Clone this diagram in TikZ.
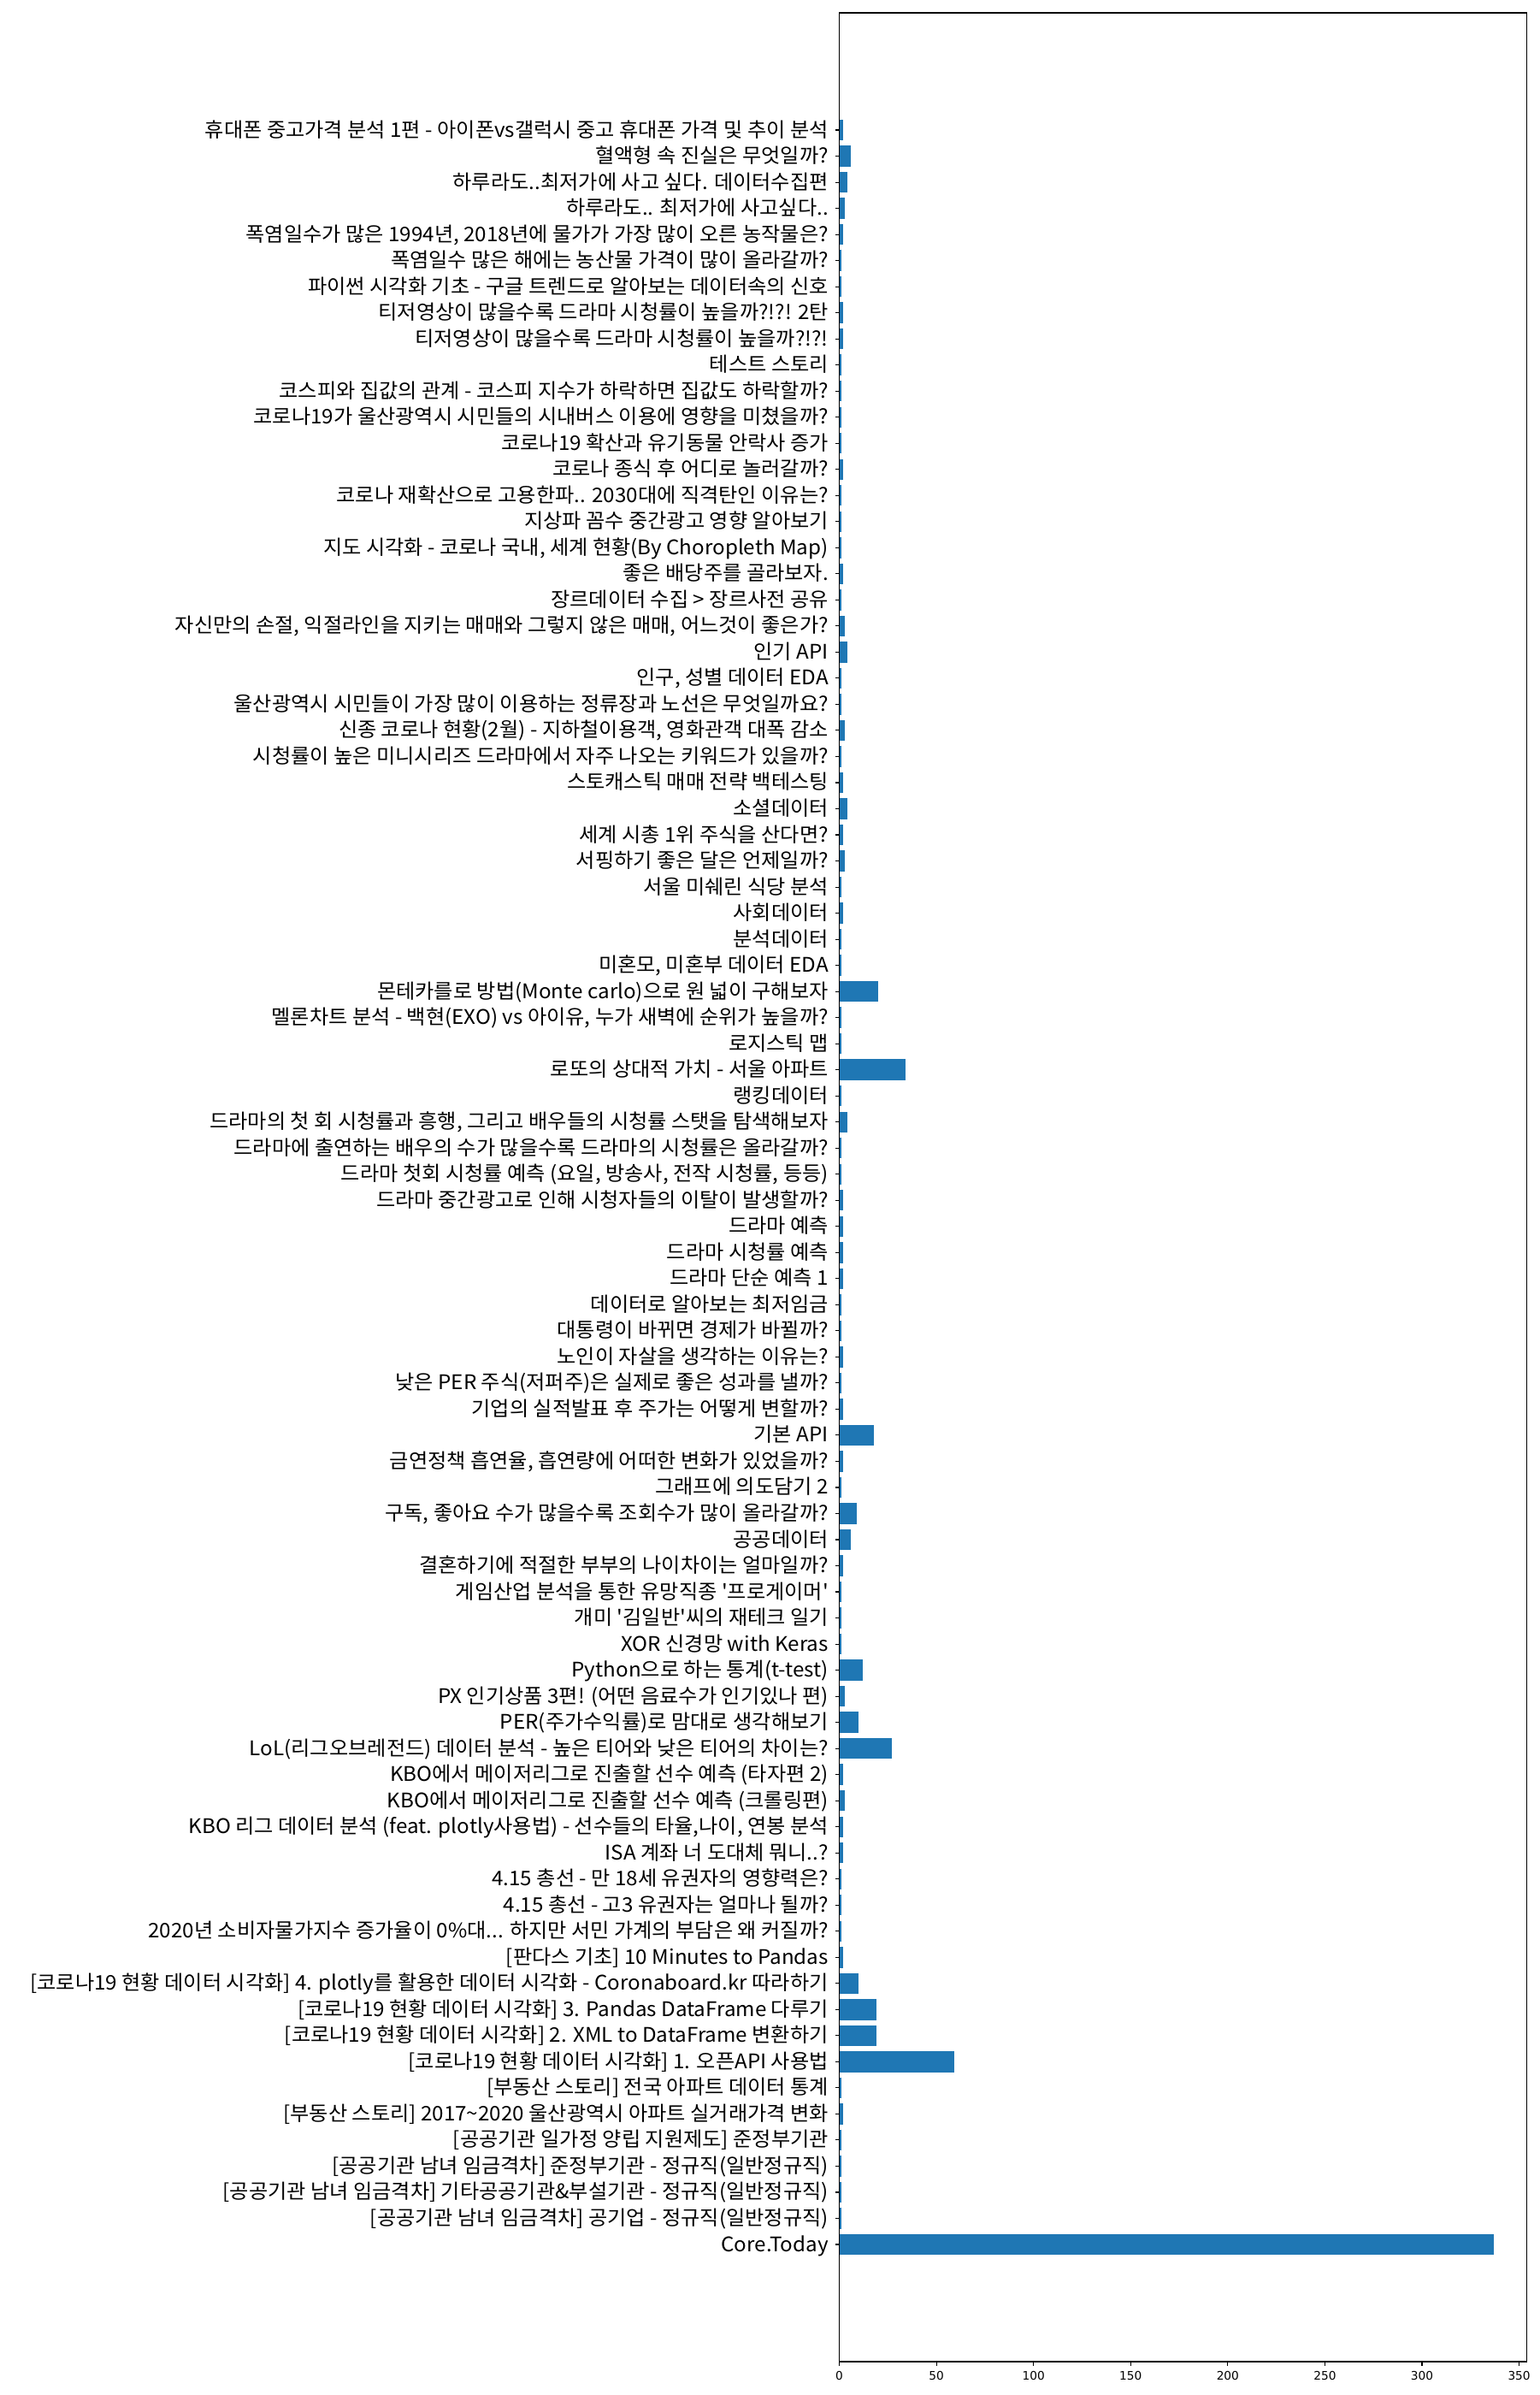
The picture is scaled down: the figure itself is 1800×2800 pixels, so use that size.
\documentclass[tikz,border=0pt]{standalone}
\usepackage{fontspec}
\newfontfamily\kr{Noto Sans CJK KR}
\newfontfamily\dv{DejaVu Sans}
\definecolor{barc}{HTML}{1F77B4}
\tikzset{
  lbl/.style={anchor=base east, inner sep=0pt, font=\kr\fontsize{23.5}{28}\selectfont},
  tklbl/.style={anchor=base, inner sep=0pt, font=\dv\fontsize{13.7}{16}\selectfont},
  barbox/.style={fill=barc, draw=none},
  tk/.style={line width=1.1pt, black},
  spine/.style={line width=1.1pt, black}
}
\newcommand\brow[3]{%
  \pgfmathsetmacro\yc{2761-(#1+4.49)*30.518}%
  \pgfmathsetmacro\xe{981.5+#2*2.2716}%
  \fill[barbox] (981.5,\yc-12.2) rectangle (\xe,\yc+12.2);
  \coordinate (t#1) at (976.6,\yc);
  \coordinate (a#1) at (981.5,\yc);
  \draw[tk] (t#1) -- (a#1);
  \node[lbl] (l#1) at (969,\yc+8) {\scalebox{1.03}[1]{#3}};
}
\newcommand\xtick[1]{%
  \pgfmathsetmacro\xt{981.5+#1*2.2716}%
  \coordinate (xa#1) at (\xt,2761);
  \coordinate (xb#1) at (\xt,2765.9);
  \draw[tk] (xa#1) -- (xb#1);
  \node[tklbl] (xl#1) at (\xt,2782.7) {#1};
}
\begin{document}
\begin{tikzpicture}[x=1pt,y=-1pt]
\useasboundingbox (0,0) rectangle (1800,2800);
\fill[white] (0,0) rectangle (1800,2800);
\brow{0}{337}{Core.Today}
\brow{1}{1}{[공공기관 남녀 임금격차] 공기업 - 정규직(일반정규직)}
\brow{2}{1}{[공공기관 남녀 임금격차] 기타공공기관\&부설기관 - 정규직(일반정규직)}
\brow{3}{1}{[공공기관 남녀 임금격차] 준정부기관 - 정규직(일반정규직)}
\brow{4}{1}{[공공기관 일가정 양립 지원제도] 준정부기관}
\brow{5}{2}{[부동산 스토리] 2017\textasciitilde 2020 울산광역시 아파트 실거래가격 변화}
\brow{6}{1}{[부동산 스토리] 전국 아파트 데이터 통계}
\brow{7}{59}{[코로나19 현황 데이터 시각화] 1. 오픈API 사용법}
\brow{8}{19}{[코로나19 현황 데이터 시각화] 2. XML to DataFrame 변환하기}
\brow{9}{19}{[코로나19 현황 데이터 시각화] 3. Pandas DataFrame 다루기}
\brow{10}{10}{[코로나19 현황 데이터 시각화] 4. plotly를 활용한 데이터 시각화 - Coronaboard.kr 따라하기}
\brow{11}{2}{[판다스 기초] 10 Minutes to Pandas}
\brow{12}{1}{2020년 소비자물가지수 증가율이 0\%대... 하지만 서민 가계의 부담은 왜 커질까?}
\brow{13}{1}{4.15 총선 - 고3 유권자는 얼마나 될까?}
\brow{14}{1}{4.15 총선 - 만 18세 유권자의 영향력은?}
\brow{15}{2}{ISA 계좌 너 도대체 뭐니..?}
\brow{16}{2}{KBO 리그 데이터 분석 (feat. plotly사용법) - 선수들의 타율,나이, 연봉 분석}
\brow{17}{3}{KBO에서 메이저리그로 진출할 선수 예측 (크롤링편)}
\brow{18}{2}{KBO에서 메이저리그로 진출할 선수 예측 (타자편 2)}
\brow{19}{27}{LoL(리그오브레전드) 데이터 분석 - 높은 티어와 낮은 티어의 차이는?}
\brow{20}{10}{PER(주가수익률)로 맘대로 생각해보기}
\brow{21}{3}{PX 인기상품 3편! (어떤 음료수가 인기있나 편)}
\brow{22}{12}{Python으로 하는 통계(t-test)}
\brow{23}{1}{XOR 신경망 with Keras}
\brow{24}{1}{개미 '김일반'씨의 재테크 일기}
\brow{25}{1}{게임산업 분석을 통한 유망직종 '프로게이머'}
\brow{26}{2}{결혼하기에 적절한 부부의 나이차이는 얼마일까?}
\brow{27}{6}{공공데이터}
\brow{28}{9}{구독, 좋아요 수가 많을수록 조회수가 많이 올라갈까?}
\brow{29}{1}{그래프에 의도담기 2}
\brow{30}{2}{금연정책 흡연율, 흡연량에 어떠한 변화가 있었을까?}
\brow{31}{18}{기본 API}
\brow{32}{2}{기업의 실적발표 후 주가는 어떻게 변할까?}
\brow{33}{1}{낮은 PER 주식(저퍼주)은 실제로 좋은 성과를 낼까?}
\brow{34}{2}{노인이 자살을 생각하는 이유는?}
\brow{35}{1}{대통령이 바뀌면 경제가 바뀔까?}
\brow{36}{1}{데이터로 알아보는 최저임금}
\brow{37}{2}{드라마 단순 예측 1}
\brow{38}{2}{드라마 시청률 예측}
\brow{39}{2}{드라마 예측}
\brow{40}{2}{드라마 중간광고로 인해 시청자들의 이탈이 발생할까?}
\brow{41}{1}{드라마 첫회 시청률 예측 (요일, 방송사, 전작 시청률, 등등)}
\brow{42}{1}{드라마에 출연하는 배우의 수가 많을수록 드라마의 시청률은 올라갈까?}
\brow{43}{4}{드라마의 첫 회 시청률과 흥행, 그리고 배우들의 시청률 스탯을 탐색해보자}
\brow{44}{1}{랭킹데이터}
\brow{45}{34}{로또의 상대적 가치 - 서울 아파트}
\brow{46}{1}{로지스틱 맵}
\brow{47}{1}{멜론차트 분석 - 백현(EXO) vs 아이유, 누가 새벽에 순위가 높을까?}
\brow{48}{20}{몬테카를로 방법(Monte carlo)으로 원 넓이 구해보자}
\brow{49}{1}{미혼모, 미혼부 데이터 EDA}
\brow{50}{1}{분석데이터}
\brow{51}{2}{사회데이터}
\brow{52}{1}{서울 미쉐린 식당 분석}
\brow{53}{3}{서핑하기 좋은 달은 언제일까?}
\brow{54}{2}{세계 시총 1위 주식을 산다면?}
\brow{55}{4}{소셜데이터}
\brow{56}{2}{스토캐스틱 매매 전략 백테스팅}
\brow{57}{1}{시청률이 높은 미니시리즈 드라마에서 자주 나오는 키워드가 있을까?}
\brow{58}{3}{신종 코로나 현황(2월) - 지하철이용객, 영화관객 대폭 감소}
\brow{59}{1}{울산광역시 시민들이 가장 많이 이용하는 정류장과 노선은 무엇일까요?}
\brow{60}{1}{인구, 성별 데이터 EDA}
\brow{61}{4}{인기 API}
\brow{62}{3}{자신만의 손절, 익절라인을 지키는 매매와 그렇지 않은 매매, 어느것이 좋은가?}
\brow{63}{1}{장르데이터 수집 > 장르사전 공유}
\brow{64}{2}{좋은 배당주를 골라보자.}
\brow{65}{1}{지도 시각화 - 코로나 국내, 세계 현황(By Choropleth Map)}
\brow{66}{1}{지상파 꼼수 중간광고 영향 알아보기}
\brow{67}{1}{코로나 재확산으로 고용한파.. 2030대에 직격탄인 이유는?}
\brow{68}{2}{코로나 종식 후 어디로 놀러갈까?}
\brow{69}{1}{코로나19 확산과 유기동물 안락사 증가}
\brow{70}{1}{코로나19가 울산광역시 시민들의 시내버스 이용에 영향을 미쳤을까?}
\brow{71}{1}{코스피와 집값의 관계 - 코스피 지수가 하락하면 집값도 하락할까?}
\brow{72}{1}{테스트 스토리}
\brow{73}{2}{티저영상이 많을수록 드라마 시청률이 높을까?!?!}
\brow{74}{2}{티저영상이 많을수록 드라마 시청률이 높을까?!?! 2탄}
\brow{75}{1}{파이썬 시각화 기초 - 구글 트렌드로 알아보는 데이터속의 신호}
\brow{76}{1}{폭염일수 많은 해에는 농산물 가격이 많이 올라갈까?}
\brow{77}{2}{폭염일수가 많은 1994년, 2018년에 물가가 가장 많이 오른 농작물은?}
\brow{78}{3}{하루라도.. 최저가에 사고싶다..}
\brow{79}{4}{하루라도..최저가에 사고 싶다. 데이터수집편}
\brow{80}{6}{혈액형 속 진실은 무엇일까?}
\brow{81}{2}{휴대폰 중고가격 분석 1편 - 아이폰vs갤럭시 중고 휴대폰 가격 및 추이 분석}
\coordinate (axtl) at (981.5,15);
\coordinate (axbr) at (1785.3,2761);
\draw[spine] (axtl) rectangle (axbr);
\xtick{0}\xtick{50}\xtick{100}\xtick{150}\xtick{200}\xtick{250}\xtick{300}\xtick{350}
\end{tikzpicture}
\end{document}
